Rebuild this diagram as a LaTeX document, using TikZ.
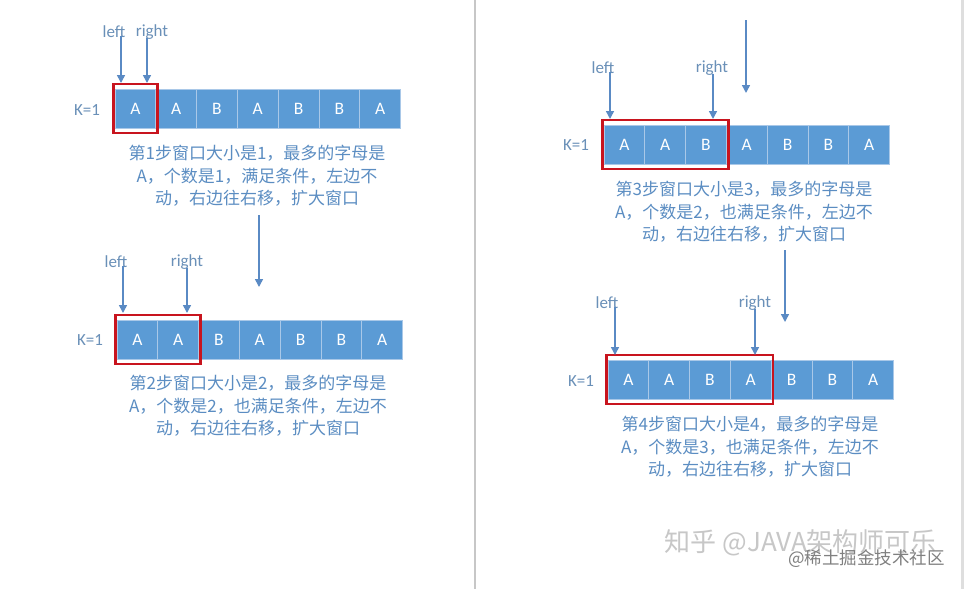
\documentclass[tikz,border=0pt]{standalone}
\usepackage{fontspec}
\setmainfont{Carlito}
\newfontfamily\cjk{Noto Sans CJK SC}
\usetikzlibrary{arrows.meta,fit}
\definecolor{cellblue}{HTML}{5B9BD5}
\definecolor{celledge}{HTML}{A9C8E8}
\definecolor{txtblue}{HTML}{5B8DC2}
\definecolor{lblblue}{HTML}{6A90B8}
\definecolor{arrblue}{HTML}{5A8AC4}
\definecolor{winred}{HTML}{C8141E}
\tikzset{
  cellbox/.style={rectangle,fill=cellblue,draw=celledge,line width=0.8pt,
    minimum width=40.8pt,minimum height=39pt,inner sep=0pt,outer sep=0pt,
    text=white,font=\fontsize{17.5}{19}\selectfont},
  lbl/.style={text=lblblue,font=\fontsize{17}{19}\selectfont,inner sep=1pt},
  klbl/.style={text=lblblue,font=\fontsize{17}{19}\selectfont,inner sep=1pt},
  desc/.style={text=txtblue,align=center,inner sep=0pt,
    font=\cjk\fontsize{17}{22.5}\selectfont},
  arr/.style={draw=arrblue,line width=1.5pt,-{Triangle[length=8pt,width=8pt]}},
  winbox/.style={draw=winred,line width=2.7pt,inner xsep=1.8pt,inner ysep=5pt},
  wm/.style={inner sep=0pt}
}
\newcommand\mycellrow[4]{%
  \foreach \L [count=\i] in {#4} {
    \node[cellbox] (#1c\i) at ({#2+(\i-0.5)*40.8},{#3+19.5}) {\L};
  }}
\begin{document}
\begin{tikzpicture}[x=1pt,y=-1pt]
\useasboundingbox (0,0) rectangle (964,589);
\fill[white] (0,0) rectangle (964,589);
% page divider and right edge
\draw[color=black!22,line width=1.5pt] (475,0) -- (475,589);
\fill[black!13] (961,0) rectangle (964,589);

% ---------------- Panel 1 ----------------
\mycellrow{p1}{115}{89}{A,A,B,A,B,B,A}
\node[winbox,fit=(p1c1)] (p1w) {};
\node[klbl] (p1k) at (87,110) {K=1};
\node[lbl] (p1l) at (114,32) {left};
\node[lbl] (p1r) at (152,32) {right};
\coordinate (p1a1) at (121,83);
\coordinate (p1a2) at (147,83);
\draw[arr] ([yshift=3pt]p1l.south -| p1a1) -- (p1a1);
\draw[arr] ([yshift=3pt]p1r.south -| p1a2) -- (p1a2);
\node[desc] (p1t) at (257,176) {第1步窗口大小是1，最多的字母是\\A，个数是1，满足条件，左边不\\动，右边往右移，扩大窗口};

% ---------------- Panel 2 ----------------
\mycellrow{p2}{117}{320}{A,A,B,A,B,B,A}
\node[winbox,fit=(p2c1)(p2c2)] (p2w) {};
\node[klbl] (p2k) at (90,340) {K=1};
\node[lbl] (p2l) at (116,262) {left};
\node[lbl] (p2r) at (187,262) {right};
\coordinate (p2a1) at (123,313);
\coordinate (p2a2) at (187,313);
\draw[arr] ([yshift=3pt]p2l.south -| p2a1) -- (p2a1);
\draw[arr] ([yshift=3pt]p2r.south -| p2a2) -- (p2a2);
\node[desc] (p2t) at (258,406) {第2步窗口大小是2，最多的字母是\\A，个数是2，也满足条件，左边不\\动，右边往右移，扩大窗口};

% ---------------- Panel 3 ----------------
\mycellrow{p3}{604}{125}{A,A,B,A,B,B,A}
\node[winbox,fit=(p3c1)(p3c3)] (p3w) {};
\node[klbl] (p3k) at (576,145) {K=1};
\node[lbl] (p3l) at (603,68) {left};
\node[lbl] (p3r) at (712,68) {right};
\coordinate (p3a1) at (610,119);
\coordinate (p3a2) at (713,119);
\draw[arr] ([yshift=3pt]p3l.south -| p3a1) -- (p3a1);
\draw[arr] ([yshift=3pt]p3r.south -| p3a2) -- (p3a2);
\node[desc] (p3t) at (744,212) {第3步窗口大小是3，最多的字母是\\A，个数是2，也满足条件，左边不\\动，右边往右移，扩大窗口};

% ---------------- Panel 4 ----------------
\mycellrow{p4}{608}{360}{A,A,B,A,B,B,A}
\node[winbox,fit=(p4c1)(p4c4)] (p4w) {};
\node[klbl] (p4k) at (581,381) {K=1};
\node[lbl] (p4l) at (607,303) {left};
\node[lbl] (p4r) at (755,303) {right};
\coordinate (p4a1) at (615,355);
\coordinate (p4a2) at (755,355);
\draw[arr] ([yshift=3pt]p4l.south -| p4a1) -- (p4a1);
\draw[arr] ([yshift=3pt]p4r.south -| p4a2) -- (p4a2);
\node[desc] (p4t) at (750,447) {第4步窗口大小是4，最多的字母是\\A，个数是3，也满足条件，左边不\\动，右边往右移，扩大窗口};

% ---------------- step arrows ----------------
\coordinate (d1s) at (259,215);
\coordinate (d1e) at (259,287);
\draw[arr] (d1s) -- (d1e);
\coordinate (d0s) at (746,20);
\coordinate (d0e) at (746,93);
\draw[arr] (d0s) -- (d0e);
\coordinate (d2s) at (785,250);
\coordinate (d2e) at (785,322);
\draw[arr] (d2s) -- (d2e);

% ---------------- watermarks ----------------
\node[wm,anchor=east,text=black!22,font=\cjk\fontsize{26}{28}\selectfont] (wm1) at (937,543) {知乎 @JAVA架构师可乐};
\node[wm,anchor=east,text=black!50,font=\cjk\fontsize{17.5}{20}\selectfont] (wm2) at (945,559) {@稀土掘金技术社区};
\end{tikzpicture}
\end{document}
